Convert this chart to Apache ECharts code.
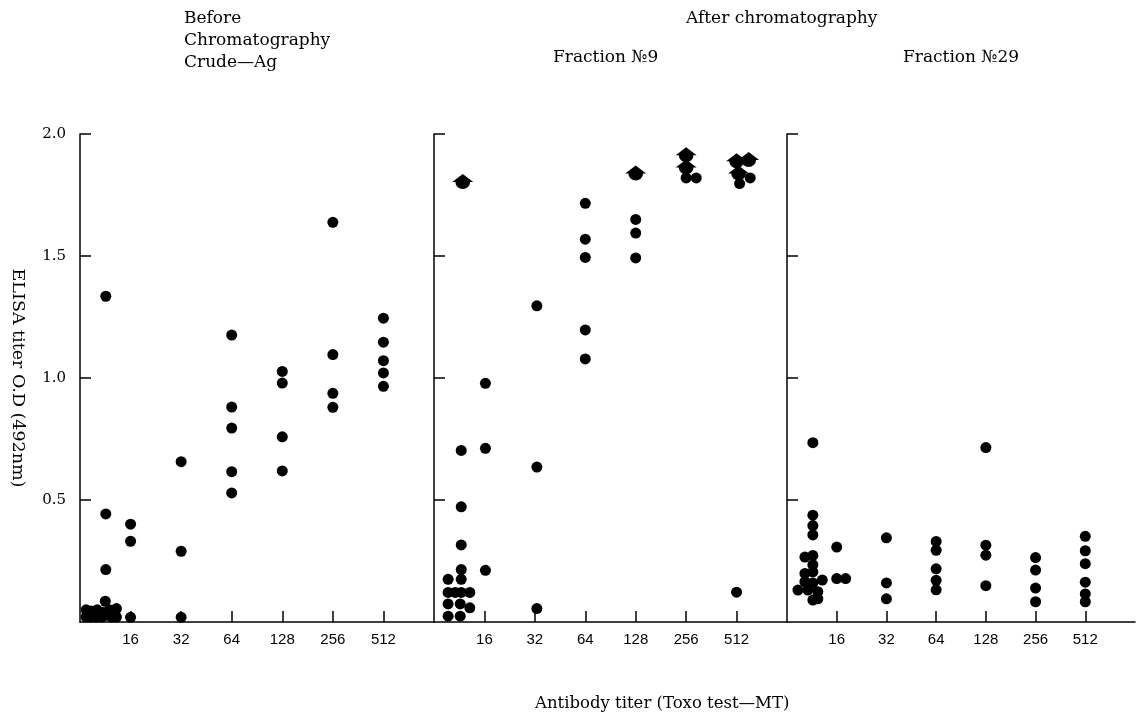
<!DOCTYPE html>
<html>
<head>
<meta charset="utf-8">
<script src="https://cdn.jsdelivr.net/npm/echarts@6/dist/echarts.min.js"></script>
<style>
  html, body { margin: 0; padding: 0; background: #ffffff; }
  #chart { width: 1138px; height: 719px; }
</style>
</head>
<body>
<div id="chart"></div>
<script>
// ---- data ----
// x = position on the titer axis (1 = 16, 2 = 32, ... 6 = 512; values < 1 are the "<16" group)
// y = ELISA O.D (492nm)
var tickLabels = ['16', '32', '64', '128', '256', '512'];
var tickPositions = [1, 2, 3, 4, 5, 6];
var yTickValues = [0.5, 1.0, 1.5, 2.0];

// Panel 1: Before chromatography, crude Ag
var crudeDots = [
  [0.51, 1.335], [0.51, 0.443], [0.51, 0.215],
  [0.12, 0.02], [0.12, 0.05], [0.22, 0.02], [0.22, 0.045], [0.32, 0.02], [0.34, 0.05],
  [0.44, 0.02], [0.44, 0.04], [0.50, 0.085], [0.52, 0.03], [0.58, 0.05], [0.62, 0.02],
  [0.64, 0.04], [0.72, 0.02], [0.72, 0.055],
  [1, 0.401], [1, 0.331], [1, 0.019],
  [2, 0.657], [2, 0.290], [2, 0.019],
  [3, 1.176], [3, 0.881], [3, 0.795], [3, 0.616], [3, 0.529],
  [4, 1.027], [4, 0.979], [4, 0.759], [4, 0.619],
  [5, 1.638], [5, 1.096], [5, 0.937], [5, 0.880],
  [6, 1.245], [6, 1.147], [6, 1.071], [6, 1.021], [6, 0.966]
];

// Panel 2: Fraction No.9
var frac9Dots = [
  [0.54, 0.703], [0.54, 0.472], [0.54, 0.316], [0.54, 0.215],
  [0.28, 0.175], [0.54, 0.175],
  [0.28, 0.121], [0.42, 0.121], [0.54, 0.121], [0.71, 0.121],
  [0.28, 0.074], [0.52, 0.074], [0.71, 0.058],
  [0.28, 0.024], [0.52, 0.024],
  [1.02, 0.978], [1.02, 0.712], [1.02, 0.212],
  [2.04, 1.296], [2.04, 0.635], [2.04, 0.055],
  [3, 1.716], [3, 1.569], [3, 1.494], [3, 1.197], [3, 1.078],
  [4, 1.650], [4, 1.594], [4, 1.492],
  [5.0, 1.82], [5.2, 1.82],
  [6.06, 1.797], [6.27, 1.82], [6.0, 0.122]
];
// values at or above the upper reading limit (drawn as arrow-headed marks)
var frac9Over = [
  [0.57, 1.805],
  [4, 1.840],
  [5.0, 1.915], [5.0, 1.865],
  [6.0, 1.890], [6.24, 1.895], [6.04, 1.840]
];

// Panel 3: Fraction No.29
var frac29Dots = [
  [0.52, 0.735], [0.52, 0.438], [0.52, 0.395], [0.52, 0.357],
  [0.36, 0.266], [0.52, 0.273], [0.52, 0.235],
  [0.36, 0.199], [0.52, 0.205],
  [0.36, 0.165], [0.71, 0.172], [0.52, 0.160],
  [0.22, 0.131], [0.42, 0.131], [0.62, 0.124],
  [0.52, 0.090], [0.62, 0.095],
  [1.0, 0.307], [1.0, 0.178], [1.18, 0.178],
  [2, 0.345], [2, 0.160], [2, 0.095],
  [3, 0.330], [3, 0.294], [3, 0.218], [3, 0.171], [3, 0.132],
  [4, 0.715], [4, 0.315], [4, 0.274], [4, 0.149],
  [5, 0.264], [5, 0.213], [5, 0.139], [5, 0.083],
  [6, 0.351], [6, 0.292], [6, 0.239], [6, 0.163], [6, 0.115], [6, 0.083]
];

// ---- chart ----
var serif = '"DejaVu Serif", "Liberation Serif", serif';
var sans = '"Liberation Sans", Arial, sans-serif';
var chart = echarts.init(document.getElementById('chart'), null, { renderer: 'canvas' });

var gridLefts = [80, 434, 787];
var gridWidths = [354, 353, 348];

function makeX(i) {
  return {
    type: 'value', gridIndex: i, min: 0, max: 7, interval: 1,
    axisLine: { show: true, onZero: false, lineStyle: { color: '#000', width: 1.5 } },
    axisTick: { show: true, inside: true, length: 11, customValues: tickPositions, lineStyle: { color: '#000', width: 1.5 } },
    axisLabel: {
      show: true, customValues: tickPositions, margin: 10,
      color: '#000', fontFamily: sans, fontSize: 15,
      formatter: function (v) { var k = tickPositions.indexOf(Math.round(v)); return k >= 0 ? tickLabels[k] : ''; }
    },
    splitLine: { show: false }
  };
}
function makeY(i) {
  return {
    type: 'value', gridIndex: i, min: 0, max: 2, interval: 0.5,
    axisLine: { show: true, onZero: false, lineStyle: { color: '#000', width: 1.5 } },
    axisTick: { show: true, inside: true, length: 11, customValues: yTickValues, lineStyle: { color: '#000', width: 1.5 } },
    axisLabel: {
      show: i === 0, customValues: yTickValues, margin: 14,
      color: '#000', fontFamily: serif, fontSize: 15,
      formatter: function (v) { return v.toFixed(1); }
    },
    splitLine: { show: false },
    name: i === 0 ? 'ELISA titer O.D (492nm)' : '',
    nameLocation: 'middle', nameRotate: -90, nameGap: 53,
    nameTextStyle: { color: '#000', fontFamily: serif, fontSize: 17.5 }
  };
}

var pin = 'path://M10,0 L20,8 L17,8 A7,7 0 1,1 3,8 L0,8 Z';
function dots(data, i) {
  return { type: 'scatter', xAxisIndex: i, yAxisIndex: i, data: data, symbol: 'circle', symbolSize: 11,
    itemStyle: { color: '#000', opacity: 1 }, emphasis: { disabled: true }, animation: false, z: 3 };
}
function overs(data, i) {
  return { type: 'scatter', xAxisIndex: i, yAxisIndex: i, data: data, symbol: pin, symbolSize: [21, 15],
    itemStyle: { color: '#000', opacity: 1 }, emphasis: { disabled: true }, animation: false, z: 4 };
}

var titleStyle = { color: '#000', fontFamily: serif, fontSize: 17, fontWeight: 'normal', lineHeight: 22 };
var axisTitleStyle = { color: '#000', fontFamily: serif, fontSize: 16.5, fontWeight: 'normal' };

chart.setOption({
  backgroundColor: '#ffffff',
  animation: false,
  title: [
    { text: 'Before\nChromatography\nCrude\u2014Ag', left: 184, top: 8, textStyle: titleStyle, padding: 0 },
    { text: 'After chromatography', left: 686, top: 8, textStyle: titleStyle, padding: 0 },
    { text: 'Fraction \u21169', left: 553, top: 47, textStyle: titleStyle, padding: 0 },
    { text: 'Fraction \u211629', left: 903, top: 47, textStyle: titleStyle, padding: 0 },
    { text: 'Antibody titer (Toxo test\u2014MT)', left: 535, top: 695, textStyle: axisTitleStyle, padding: 0 }
  ],
  grid: [0, 1, 2].map(function (i) {
    return { left: gridLefts[i], width: gridWidths[i], top: 134, height: 488, containLabel: false };
  }),
  xAxis: [makeX(0), makeX(1), makeX(2)],
  yAxis: [makeY(0), makeY(1), makeY(2)],
  series: [
    dots(crudeDots, 0),
    dots(frac9Dots, 1), overs(frac9Over, 1),
    dots(frac29Dots, 2)
  ]
});
</script>
</body>
</html>
